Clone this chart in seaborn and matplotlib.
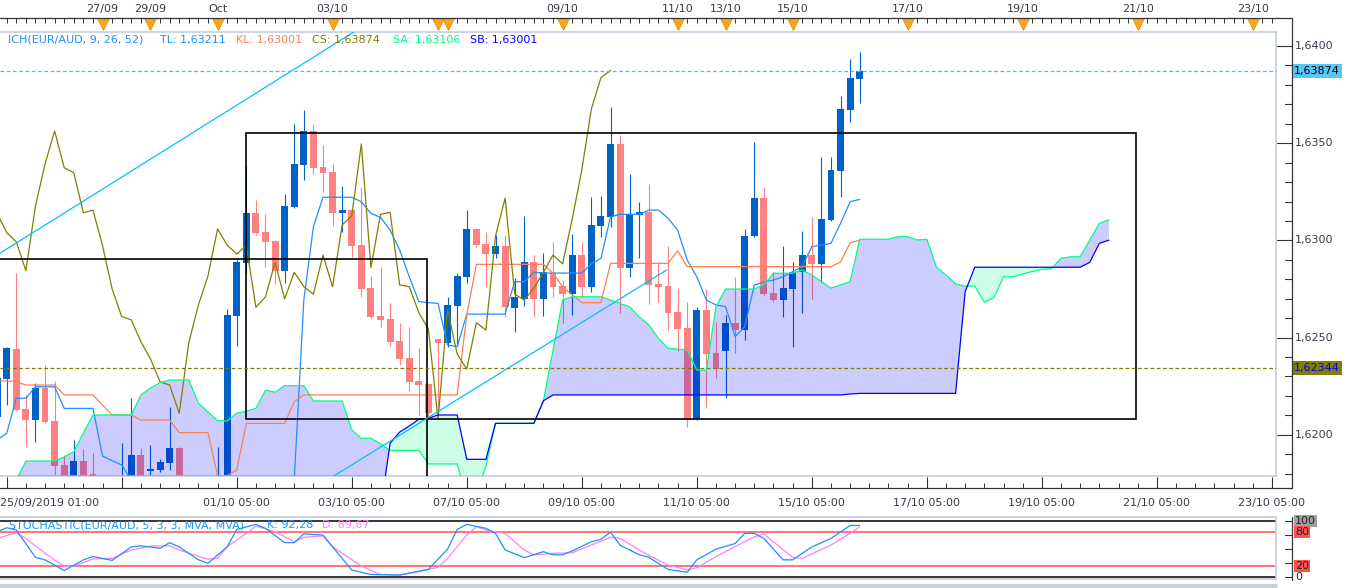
import numpy as np
import matplotlib
matplotlib.use("Agg")
import matplotlib.pyplot as plt
import matplotlib.transforms as mtransforms
from matplotlib.lines import Line2D
from matplotlib.patches import Rectangle
import seaborn as sns

sns.set_theme(style="white")
plt.rcParams['font.family'] = ['DejaVu Sans']

# ---- EUR/AUD 4h candles (bar -1 is cut at the left edge) ----
bars = list(range(-1, 90))
opens = [1.62092, 1.62287, 1.62441, 1.62133, 1.62076, 1.62241, 1.62071, 1.61845, 1.61760, 1.61867,
         1.61798, 1.61770, 1.61500, 1.61680, 1.61760, 1.61896, 1.61814, 1.61819, 1.61856, 1.61930,
         1.61700, 1.61500, 1.61100, 1.60850, 1.61200, 1.62613, 1.62885, 1.63140, 1.63043, 1.62997,
         1.62844, 1.63172, 1.63390, 1.63563, 1.63376, 1.63352, 1.63142, 1.63156, 1.62976, 1.62754,
         1.62611, 1.62596, 1.62484, 1.62395, 1.62277, 1.62261, 1.62493, 1.62474, 1.62664, 1.62813,
         1.63059, 1.62981, 1.62930, 1.62973, 1.62654, 1.62699, 1.62887, 1.62699, 1.62831, 1.62765,
         1.62724, 1.62925, 1.62762, 1.63076, 1.63122, 1.63496, 1.62860, 1.63131, 1.63145, 1.62776,
         1.62765, 1.62632, 1.62550, 1.62080, 1.62642, 1.62422, 1.62433, 1.62577, 1.62539, 1.63021,
         1.63217, 1.62728, 1.62693, 1.62750, 1.62836, 1.62925, 1.62879, 1.63105, 1.63359, 1.63671,
         1.63830]
highs = [1.62300, 1.62453, 1.62834, 1.62205, 1.62268, 1.62359, 1.62277, 1.61896, 1.61973, 1.61927,
         1.61905, 1.61790, 1.61720, 1.61959, 1.62191, 1.61930, 1.61948, 1.61876, 1.62145, 1.61935,
         1.61760, 1.61550, 1.61200, 1.61939, 1.62647, 1.62899, 1.63383, 1.63208, 1.63136, 1.63002,
         1.63239, 1.63599, 1.63671, 1.63599, 1.63491, 1.63393, 1.63280, 1.63167, 1.63273, 1.62817,
         1.62865, 1.62676, 1.62574, 1.62553, 1.62445, 1.62265, 1.62495, 1.62710, 1.62831, 1.63156,
         1.63065, 1.63045, 1.63028, 1.63028, 1.62805, 1.63126, 1.62925, 1.62934, 1.62993, 1.62796,
         1.63033, 1.62993, 1.63222, 1.63230, 1.63688, 1.63542, 1.63342, 1.63199, 1.63290, 1.62887,
         1.62973, 1.62754, 1.62685, 1.62659, 1.62750, 1.62582, 1.62616, 1.62813, 1.63059, 1.63508,
         1.63273, 1.62839, 1.62971, 1.62890, 1.63050, 1.63119, 1.63430, 1.63430, 1.63743, 1.63933,
         1.63971]
lows = [1.62050, 1.62151, 1.62120, 1.61939, 1.61965, 1.62059, 1.61793, 1.61690, 1.61700, 1.61700,
        1.61720, 1.61423, 1.61375, 1.61331, 1.61257, 1.61700, 1.61760, 1.61810, 1.61819, 1.61650,
        1.61400, 1.60950, 1.60740, 1.60780, 1.61150, 1.62458, 1.62831, 1.63030, 1.62865, 1.62776,
        1.62782, 1.63168, 1.63310, 1.63342, 1.63250, 1.63074, 1.63045, 1.62913, 1.62710, 1.62599,
        1.62556, 1.62457, 1.62359, 1.62227, 1.62102, 1.62076, 1.62102, 1.62453, 1.62462, 1.62779,
        1.62965, 1.62759, 1.62910, 1.62608, 1.62527, 1.62663, 1.62613, 1.62613, 1.62710, 1.62574,
        1.62616, 1.62710, 1.62733, 1.63020, 1.63070, 1.62625, 1.62810, 1.62911, 1.62673, 1.62685,
        1.62539, 1.62433, 1.62039, 1.62077, 1.62136, 1.62291, 1.62188, 1.62419, 1.62488, 1.63020,
        1.62720, 1.62685, 1.62608, 1.62453, 1.62625, 1.62699, 1.62784, 1.63101, 1.63222, 1.63611,
        1.63708]
closes = [1.62292, 1.62445, 1.62130, 1.62076, 1.62241, 1.62067, 1.61841, 1.61740, 1.61867, 1.61760,
          1.61770, 1.61500, 1.61680, 1.61760, 1.61896, 1.61770, 1.61824, 1.61862, 1.61930, 1.61700,
          1.61500, 1.61100, 1.60850, 1.61200, 1.62616, 1.62887, 1.63140, 1.63040, 1.62993, 1.62844,
          1.63177, 1.63393, 1.63563, 1.63374, 1.63348, 1.63142, 1.63156, 1.62973, 1.62750, 1.62608,
          1.62591, 1.62479, 1.62391, 1.62273, 1.62256, 1.62111, 1.62474, 1.62668, 1.62817, 1.63059,
          1.62976, 1.62930, 1.62973, 1.62656, 1.62710, 1.62887, 1.62699, 1.62836, 1.62762, 1.62724,
          1.62925, 1.62762, 1.63079, 1.63126, 1.63496, 1.62860, 1.63134, 1.63145, 1.62771, 1.62762,
          1.62628, 1.62544, 1.62080, 1.62642, 1.62416, 1.62338, 1.62577, 1.62539, 1.63023, 1.63217,
          1.62724, 1.62693, 1.62754, 1.62836, 1.62925, 1.62879, 1.63110, 1.63362, 1.63676, 1.63837,
          1.63874]

# Ichimoku (9, 26, 52) lines as drawn
tenkan = [1.61973, 1.62008, 1.62188, 1.62188, 1.62247, 1.62247, 1.62247, 1.62136, 1.62136, 1.62136,
          1.62136, 1.61891, 1.61867, 1.61845, 1.61767] + [1.61600] * 16 + \
         [1.61767, 1.62693, 1.63070, 1.63222, 1.63222, 1.63222, 1.63222, 1.63199, 1.63139, 1.63119,
          1.63053, 1.62951, 1.62813, 1.62685, 1.62680, 1.62676, 1.62462, 1.62453, 1.62621, 1.62621,
          1.62621, 1.62621, 1.62621, 1.62788, 1.62788, 1.62836, 1.62832, 1.62832, 1.62832, 1.62832,
          1.62832, 1.62879, 1.62908, 1.63122, 1.63134, 1.63134, 1.63134, 1.63156, 1.63156, 1.63114,
          1.63053, 1.62899, 1.62813, 1.62693, 1.62668, 1.62659, 1.62505, 1.62556, 1.62771, 1.62786,
          1.62796, 1.62813, 1.62839, 1.62865, 1.62968, 1.62976, 1.62985, 1.63088, 1.63199, 1.63211]
kijun = [1.62277, 1.62277, 1.62274, 1.62256, 1.62256, 1.62256, 1.62256, 1.62205, 1.62205, 1.62205,
         1.62205, 1.62153, 1.62102, 1.62102, 1.62102, 1.62076, 1.62076, 1.62076, 1.62076, 1.62011,
         1.62011, 1.62011, 1.62011, 1.61790, 1.61790, 1.61819] + [1.62059] * 5 + [1.62170] + \
        [1.62205] * 17 + [1.62616] + [1.62877] * 8 + [1.62831, 1.62762, 1.62719] + \
        [1.62680] * 3 + [1.62882] * 7 + [1.62947] + [1.62865] * 16 + [1.62889, 1.62987, 1.63001]

cloud_bars = list(range(-1, 116))
span_a = [1.61650, 1.61700, 1.61767, 1.61865, 1.61865, 1.61865, 1.61865, 1.61886, 1.61913, 1.62009,
          1.62102, 1.62102, 1.62102, 1.62102, 1.62102, 1.62205, 1.62241, 1.62268, 1.62282, 1.62282,
          1.62282, 1.62162, 1.62117, 1.62073, 1.62071, 1.62111, 1.62122, 1.62136, 1.62230, 1.62219,
          1.62253, 1.62253, 1.62253, 1.62174, 1.62174, 1.62174, 1.62174, 1.62025, 1.61982, 1.61982,
          1.61953, 1.61919, 1.61919, 1.61919, 1.61919, 1.61850, 1.61850, 1.61850, 1.61850, 1.61665,
          1.61690, 1.61840, 1.62059, 1.62059, 1.62059, 1.62059, 1.62059, 1.62175, 1.62436, 1.62693,
          1.62710, 1.62710, 1.62710, 1.62710, 1.62693, 1.62676, 1.62657, 1.62606, 1.62565, 1.62496,
          1.62445, 1.62441, 1.62436, 1.62333, 1.62333, 1.62659, 1.62750, 1.62750, 1.62750, 1.62750,
          1.62771, 1.62831, 1.62831, 1.62831, 1.62848, 1.62822, 1.62788, 1.62754, 1.62771, 1.62788,
          1.63006, 1.63006, 1.63006, 1.63006, 1.63019, 1.63019, 1.63002, 1.63006, 1.62862, 1.62822,
          1.62776, 1.62765, 1.62765, 1.62682, 1.62705, 1.62813, 1.62813, 1.62827, 1.62840, 1.62851,
          1.62854, 1.62908, 1.62916, 1.62916, 1.63002, 1.63088, 1.63106]
span_b = [1.61500] * 40 + [1.61613, 1.61956, 1.62014, 1.62045, 1.62080, 1.62085] + \
         [1.62102] * 3 + [1.61874] * 3 + [1.62059] * 5 + [1.62175] + [1.62205] * 31 + \
         [1.62210] + [1.62213] * 11 + [1.62736] + [1.62862] * 12 + [1.62887, 1.62985, 1.63001]

# stochastic (5, 3, 3) as drawn
stoch_k_bars = [-1, 0, 1, 3, 4, 6, 8, 9, 11, 13, 14, 16, 17, 18, 20, 21, 23, 24, 26, 27, 29, 30, 31,
                33, 34, 36, 38, 41, 43, 44, 46, 47, 48, 50, 51, 52, 54, 56, 57, 58, 59, 61, 62, 63,
                64, 66, 67, 69, 71, 72, 74, 76, 77, 78, 79, 81, 82, 84, 86, 88, 89]
stoch_k = [81, 88, 84, 35.5, 31, 12, 31, 37, 30, 54, 56, 51.5, 61.5, 54, 31, 25, 54, 85, 94, 87,
           61.5, 61.5, 77, 75, 54, 13, 5, 4, 11, 14, 50, 85, 94, 87, 78, 48.5, 35, 45.5, 40, 40,
           47, 63, 67.5, 80, 57, 40, 35.5, 14, 9, 31, 50, 60, 78, 78, 69, 31, 31, 54, 69, 92, 92.28]
stoch_d_bars = [-1, 1, 2, 4, 6, 7, 9, 11, 13, 15, 17, 18, 21, 22, 23, 25, 26, 28, 30, 31, 33, 34,
                37, 39, 41, 43, 45, 46, 48, 49, 50, 52, 54, 55, 57, 59, 61, 63, 64, 66, 67, 69, 71,
                72, 74, 76, 78, 79, 80, 82, 83, 86, 88, 89]
stoch_d = [69, 79, 69, 42.6, 19, 20, 32.5, 33.7, 48.5, 55.6, 56, 48.5, 32, 33.7, 54.4, 78, 91, 81,
           63, 71, 73.4, 54.4, 20, 5, 4, 10, 17.8, 33.7, 75, 90, 84, 78, 48.5, 39.6, 42.6, 43.8,
           57.4, 71, 69, 48.5, 39, 22, 13, 17, 36.7, 54.4, 72, 77, 63, 35.5, 33.7, 57.4, 78, 89.67]

# time axis
event_bars = [10, 15, 22, 34, 45, 46, 58, 70, 75, 82, 94, 106, 118, 130]
event_labels = ["27/09", "29/09", "Oct", "03/10", "", "", "09/10", "11/10", "13/10", "15/10",
                "17/10", "19/10", "21/10", "23/10"]
time_bars = [24, 36, 48, 60, 72, 84, 96, 108, 120, 132]
time_labels = ["01/10 05:00", "03/10 05:00", "07/10 05:00", "09/10 05:00", "11/10 05:00",
               "15/10 05:00", "17/10 05:00", "19/10 05:00", "21/10 05:00", "23/10 05:00"]
first_label = "25/09/2019 01:00"

# drawings on the chart
boxes = [(-5.0, 43.85, 1.61000, 1.62903), (25.0, 117.85, 1.62082, 1.63555)]
trend_a = [(-0.70, 1.62934), (24.86, 1.63722)]
trend_b = [(30.0, 1.61662), (68.86, 1.62848)]
last_price = 1.63874
level_price = 1.62344

# ---- layout in pixels ----
W, H = 1349, 588
def fx(px):
    return px / W
def fy(py):
    return 1 - py / H

UP, DN = "#0062c4", "#ff8080"
TL_C, KL_C, CS_C, SA_C, SB_C = "#1e90ff", "#ff7f50", "#808000", "#00ff7f", "#0000ff"
FRAME = "#c4cedb"
TXT = "#3a3a4a"
fs = 8

fig = plt.figure(figsize=(W / 100, H / 100), dpi=100, facecolor="white")
ax = fig.add_axes([0, fy(476), fx(1276), (476 - 31.7) / H])
ax.set_facecolor("white")

o, h, l, c = map(np.array, (opens, highs, lows, closes))
col = np.where(c >= o, UP, DN)
ax.vlines(bars, l, h, colors=col, linewidth=0.8, zorder=2)
ax.bar(bars, np.maximum(np.abs(c - o), 0.00006), bottom=np.minimum(o, c), width=0.72,
       color=col, linewidth=0, zorder=2)

sa, sb = np.array(span_a), np.array(span_b)
ax.fill_between(cloud_bars, sa, sb, where=sa >= sb, interpolate=True, color="#0000ff",
                alpha=0.2, linewidth=0, zorder=3)
ax.fill_between(cloud_bars, sa, sb, where=sa < sb, interpolate=True, color="#00ff7f",
                alpha=0.2, linewidth=0, zorder=3)

line_kw = dict(ax=ax, linewidth=0.9, estimator=None, sort=False, legend=False, zorder=4)
sns.lineplot(x=bars, y=tenkan, color=TL_C, **line_kw)
sns.lineplot(x=bars, y=kijun, color=KL_C, **line_kw)
sns.lineplot(x=np.array(bars) - 26, y=closes, color=CS_C, **line_kw)   # chikou span
sns.lineplot(x=cloud_bars, y=span_a, color=SA_C, **line_kw)
sns.lineplot(x=cloud_bars, y=span_b, color=SB_C, **line_kw)

for x0, x1, y0, y1 in boxes:
    ax.add_patch(Rectangle((x0, y0), x1 - x0, y1 - y0, fill=False, ec="black", lw=1.2, zorder=5))
ax.axline(trend_a[0], trend_a[1], color="#00bfff", lw=0.9, zorder=5)
ax.plot([p[0] for p in trend_b], [p[1] for p in trend_b], color="#00bfff", lw=0.9, zorder=5)
ax.axhline(last_price, color="#40c0f0", lw=0.9, ls=(0, (3, 2)), zorder=5)
ax.axhline(level_price, color="#808000", lw=0.9, ls=(0, (3, 2)), zorder=5)

ax.set_xlim(-0.699, 132.43)
ax.set_ylim(1.617881, 1.640736)
ax.set_xticks([])
ax.set_yticks([])
ax.set_xlabel("")
ax.set_ylabel("")
ax.spines["left"].set_visible(False)
for s in ("top", "right", "bottom"):
    ax.spines[s].set_color(FRAME)
    ax.spines[s].set_linewidth(1.2)

# legend line
fmt = lambda v: f"{v:.5f}".replace(".", ",")
legend = [(8, "ICH(EUR/AUD, 9, 26, 52)", TL_C), (160, "TL: " + fmt(tenkan[-1]), TL_C),
          (236, "KL: " + fmt(kijun[-1]), KL_C), (312, "CS: " + fmt(closes[-1]), CS_C),
          (393, "SA: " + fmt(span_a[-1]), SA_C), (470, "SB: " + fmt(span_b[-1]), SB_C)]
for px, t, cc in legend:
    fig.text(fx(px), fy(39.5), t, color=cc, fontsize=fs, va="center", ha="left")

# right price scale
trans_r = mtransforms.blended_transform_factory(fig.transFigure, ax.transData)
fig.add_artist(Line2D([fx(1291.7)] * 2, [fy(18.3), fy(488)], color="#333333", lw=0.9))
for k in range(16180, 16401, 10):
    p = k / 10000
    major = k % 50 == 0
    ax.plot([fx(1277 if major else 1285), fx(1291.7)], [p, p], transform=trans_r,
            color="#333333", lw=0.8, clip_on=False)
    if major:
        ax.text(fx(1295), p, f"{p:.4f}".replace(".", ","), transform=trans_r, fontsize=fs,
                color=TXT, va="center", ha="left", clip_on=False)
ax.text(fx(1294), last_price, fmt(last_price), transform=trans_r, fontsize=fs, color="black",
        va="center", ha="left", clip_on=False, zorder=10,
        bbox=dict(boxstyle="square,pad=0.18", fc="#55c8f8", ec="none"))
ax.text(fx(1294), level_price, fmt(level_price), transform=trans_r, fontsize=fs, color="#0000ff",
        va="center", ha="left", clip_on=False, zorder=10,
        bbox=dict(boxstyle="square,pad=0.18", fc="#808000", ec="none"))

# top date strip with event markers
trans_t = mtransforms.blended_transform_factory(ax.transData, fig.transFigure)
fig.add_artist(Line2D([0, fx(1291.7)], [fy(18.3)] * 2, color="#333333", lw=0.9))
ax.vlines(range(0, 133), fy(23), fy(18.3), transform=trans_t, colors="#333333", lw=0.7,
          clip_on=False)
ax.plot(event_bars, [fy(23.5)] * len(event_bars), ls="none", marker="v", ms=9, color="#ffa31a",
        mec="#e08a00", mew=0.5, transform=trans_t, clip_on=False, zorder=10)
for b, t in zip(event_bars, event_labels):
    if t:
        ax.text(b, fy(9), t, transform=trans_t, ha="center", va="center", fontsize=fs,
                color=TXT, clip_on=False)

# bottom time strip
fig.add_artist(Line2D([0, fx(1291.7)], [fy(488)] * 2, color="#333333", lw=0.9))
ax.vlines(range(0, 133, 12), fy(488), fy(477), transform=trans_t, colors="#333333", lw=0.8,
          clip_on=False)
ax.vlines(range(0, 133, 2), fy(488), fy(483), transform=trans_t, colors="#333333", lw=0.7,
          clip_on=False)
for b, t in zip(time_bars, time_labels):
    ax.text(b, fy(503), t, transform=trans_t, ha="center", va="center", fontsize=fs, color=TXT,
            clip_on=False)
fig.text(0.0, fy(503), first_label, ha="left", va="center", fontsize=fs, color=TXT)

# ---- stochastic panel ----
st = fig.add_axes([0, fy(579.3), fx(1276), (579.3 - 517.3) / H])
st.set_facecolor("white")
for lv, cc in ((100, "black"), (0, "black"), (80, "#ff5050"), (20, "#ff5050")):
    st.axhline(lv, color=cc, lw=1.1, zorder=1)
sns.lineplot(x=stoch_d_bars, y=stoch_d, color="#ff80ff", ax=st, linewidth=0.9, estimator=None,
             sort=False, legend=False, zorder=3)
sns.lineplot(x=stoch_k_bars, y=stoch_k, color="#1e90ff", ax=st, linewidth=0.9, estimator=None,
             sort=False, legend=False, zorder=4)
st.set_xlim(-0.699, 132.43)
st.set_ylim(-3.55, 106.57)
st.set_xticks([])
st.set_yticks([])
st.set_xlabel("")
st.set_ylabel("")
st.spines["left"].set_visible(False)
for s in ("top", "right", "bottom"):
    st.spines[s].set_color(FRAME)
    st.spines[s].set_linewidth(1.2)

fig.text(fx(9), fy(525), "STOCHASTIC(EUR/AUD, 5, 3, 3, MVA, MVA)", color="#1e90ff",
         fontsize=fs, va="center")
fig.text(fx(267), fy(525), "K: " + f"{stoch_k[-1]:.2f}".replace(".", ","), color="#1e90ff",
         fontsize=fs, va="center")
fig.text(fx(322), fy(525), "D: " + f"{stoch_d[-1]:.2f}".replace(".", ","), color="#ff80ff",
         fontsize=fs, va="center")

trans_s = mtransforms.blended_transform_factory(fig.transFigure, st.transData)
fig.add_artist(Line2D([fx(1292)] * 2, [fy(517), fy(580)], color="#333333", lw=0.9))
for lv in (0, 25, 50, 75, 100):
    st.plot([fx(1285), fx(1292)], [lv, lv], transform=trans_s, color="#333333", lw=0.8,
            clip_on=False)
for lv, bg in ((100, "#a0a0a0"), (80, "#ff5050"), (20, "#ff5050"), (0, None)):
    kw = dict(bbox=dict(boxstyle="square,pad=0.1", fc=bg, ec="none")) if bg else {}
    st.text(fx(1295), lv, str(lv), transform=trans_s, fontsize=fs, color="#222222",
            va="center", ha="left", clip_on=False, **kw)

fig.add_artist(Line2D([0, fx(1276)], [fy(586)] * 2, color="#c8d0d8", lw=3))

fig.savefig("out.png", dpi=100, facecolor="white")
